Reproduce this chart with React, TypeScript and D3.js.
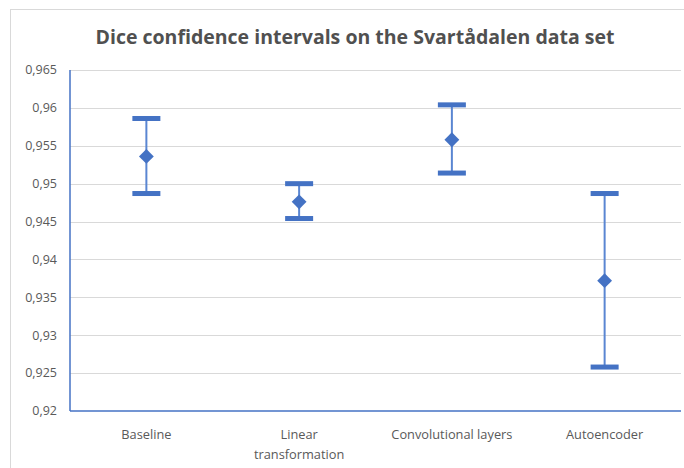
import React from 'react'
import * as d3 from 'd3'

// values
const categories = ['Baseline', 'Linear transformation', 'Convolutional layers', 'Autoencoder']
const means = [0.9536, 0.9476, 0.9558, 0.9372]
const lowers = [0.9487, 0.9454, 0.9514, 0.9258]
const uppers = [0.9586, 0.95, 0.9604, 0.9487]
const yTicks = [0.92, 0.925, 0.93, 0.935, 0.94, 0.945, 0.95, 0.955, 0.96, 0.965]
const xLabelLines = [['Baseline'], ['Linear', 'transformation'], ['Convolutional layers'], ['Autoencoder']]

const W = 684
const H = 468
const blue = '#4472C4'
const grey = '#595959'
const font = "'Open Sans', 'Noto Sans', sans-serif"

const fmt = (v: number) => (+v.toFixed(3)).toString().replace('.', ',')

export default function App() {
  const left = 70, right = 681, top = 70, bottom = 411

  const y = d3.scaleLinear().domain([0.92, 0.965]).range([bottom, top])
  const x = d3.scaleBand<string>().domain(categories).range([left, right])

  const diamond = d3.symbol().type(d3.symbolDiamond2).size(140)

  return (
    <svg width={W} height={H} style={{ position: 'absolute', left: 0, top: 0, background: '#fff' }}>
      {/* chart frame */}
      <rect x={10.5} y={9.5} width={W + 20} height={H + 20} fill="none" stroke="#d9d9d9" />

      <text x={355} y={44} textAnchor="middle" fontFamily={font} fontWeight="bold"
        fontSize={19.5} fill="#505050">Dice confidence intervals on the Svartådalen data set</text>

      {/* gridlines + y labels */}
      {yTicks.map(t => (
        <g key={t}>
          {t > 0.92 && <line x1={left} x2={right} y1={Math.round(y(t)) + 0.5} y2={Math.round(y(t)) + 0.5}
            stroke="#d9d9d9" strokeWidth={1} />}
          <text x={57} y={y(t)} dy="0.35em" textAnchor="end" fontFamily={font} fontSize={12.5}
            fill={grey}>{fmt(t)}</text>
        </g>
      ))}

      {/* axes */}
      <line x1={left} x2={left} y1={top} y2={bottom} stroke={blue} strokeWidth={1.5} />
      <line x1={left} x2={right} y1={bottom} y2={bottom} stroke={blue} strokeWidth={1.5} />

      {/* x labels */}
      {categories.map((c, i) => (
        <text key={c} x={x(c)! + x.bandwidth() / 2} y={439} textAnchor="middle" fontFamily={font}
          fontSize={12.8} fill={grey}>
          {xLabelLines[i].map((l, j) => (
            <tspan key={j} x={x(c)! + x.bandwidth() / 2} dy={j === 0 ? 0 : 20}>{l}</tspan>
          ))}
        </text>
      ))}

      {/* error bars */}
      {categories.map((c, i) => {
        const cx = x(c)! + x.bandwidth() / 2
        return (
          <g key={c}>
            <line x1={cx} x2={cx} y1={y(uppers[i])} y2={y(lowers[i])} stroke="#5a86d2" strokeWidth={2} />
            <rect x={cx - 14} y={y(uppers[i]) - 2.5} width={28} height={5} fill={blue} />
            <rect x={cx - 14} y={y(lowers[i]) - 2.5} width={28} height={5} fill={blue} />
            <path d={diamond()!} transform={`translate(${cx},${y(means[i])})`} fill={blue} />
          </g>
        )
      })}
    </svg>
  )
}
